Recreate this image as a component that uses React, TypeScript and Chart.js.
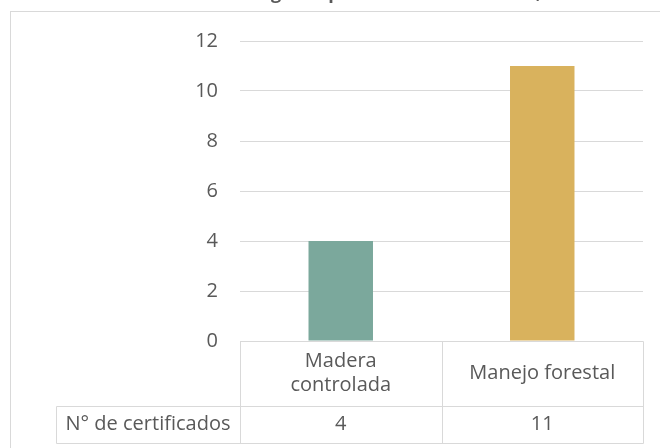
import React, { useEffect, useRef } from "react";
import { Chart, registerables } from "chart.js";

Chart.register(...registerables);

const titleText = "Certificados FSC otorgados por modalidad en Chile, 2019";
const categories: string[][] = [["Madera", "controlada"], ["Manejo forestal"]];
const seriesName = "N° de certificados";
const values = [4, 11];
const barColors = ["#7BA89C", "#D9B25D"];
const yTicks = { min: 0, max: 12, step: 2 };

const FONT = "'Open Sans', sans-serif";
const TEXT = "#595959";
const LINE = "#D9D9D9";

const framePlugin = {
  id: "frame",
  beforeDraw(chart: any) {
    const ctx = chart.ctx;
    ctx.save();
    ctx.strokeStyle = LINE;
    ctx.lineWidth = 1;
    ctx.strokeRect(10.5, 11.5, 800, 600);
    ctx.fillStyle = TEXT;
    ctx.font = `bold 18px ${FONT}`;
    ctx.textBaseline = "alphabetic";
    ctx.textAlign = "left";
    const prefix = "Certificados FSC otor";
    const pw = ctx.measureText(prefix).width;
    ctx.fillText(titleText, 271 - pw, -1);
    ctx.restore();
  },
  afterDraw(chart: any) {
    const ctx = chart.ctx;
    const area = chart.chartArea;
    const xs = chart.scales.x;
    const left = area.left;
    const right = area.right;
    const top = area.bottom;
    const mid = top + 65;
    const bottom = top + 102;
    const labelLeft = 56;
    const n = categories.length;
    const bounds: number[] = [];
    for (let i = 0; i <= n; i++) bounds.push(left + ((right - left) * i) / n);
    const cx = (v: number) => Math.round(v) + 0.5;
    ctx.save();
    ctx.strokeStyle = LINE;
    ctx.lineWidth = 1;
    ctx.beginPath();
    ctx.moveTo(cx(left), cx(top));
    ctx.lineTo(cx(right), cx(top));
    ctx.moveTo(labelLeft + 0.5, cx(mid));
    ctx.lineTo(cx(right), cx(mid));
    ctx.moveTo(labelLeft + 0.5, cx(bottom));
    ctx.lineTo(cx(right), cx(bottom));
    for (const b of bounds) {
      ctx.moveTo(cx(b), cx(top));
      ctx.lineTo(cx(b), cx(bottom));
    }
    ctx.moveTo(labelLeft + 0.5, cx(mid));
    ctx.lineTo(labelLeft + 0.5, cx(bottom));
    ctx.stroke();

    ctx.fillStyle = TEXT;
    ctx.font = `20px ${FONT}`;
    ctx.textAlign = "center";
    ctx.textBaseline = "middle";
    const lh = 24;
    categories.forEach((lines, i) => {
      const x = xs.getPixelForValue(i);
      const yc = (top + mid) / 2;
      const y0 = yc - ((lines.length - 1) * lh) / 2;
      lines.forEach((t, j) => ctx.fillText(t, x, y0 + j * lh));
      ctx.fillText(String(values[i]), x, (mid + bottom) / 2);
    });
    ctx.fillText(seriesName, (labelLeft + left) / 2, (mid + bottom) / 2);
    ctx.restore();
  },
};

export default function App() {
  const ref = useRef<HTMLCanvasElement>(null);
  useEffect(() => {
    document.body.style.margin = "0";
    const chart = new Chart(ref.current!, {
      type: "bar",
      data: {
        labels: categories.map((c) => c.join(" ")),
        datasets: [
          {
            label: seriesName,
            data: values,
            backgroundColor: barColors,
            borderWidth: 0,
            barPercentage: 1,
            categoryPercentage: 0.32,
          },
        ],
      },
      options: {
        responsive: false,
        animation: false,
        layout: { padding: { left: 0, top: 41, right: 17, bottom: 107 } },
        plugins: { legend: { display: false }, tooltip: { enabled: false }, title: { display: false } },
        scales: {
          x: { display: false },
          y: {
            min: yTicks.min,
            max: yTicks.max,
            ticks: {
              stepSize: yTicks.step,
              padding: 22,
              color: TEXT,
              font: { family: FONT, size: 20 },
            },
            grid: { color: LINE, drawTicks: false },
            border: { display: false },
            afterFit: (s: any) => {
              s.width = 240;
            },
          },
        },
      },
      plugins: [framePlugin],
    });
    return () => chart.destroy();
  }, []);
  return (
    <div style={{ width: 660, height: 448 }}>
      <canvas ref={ref} width={660} height={448} style={{ display: "block" }} />
    </div>
  );
}
